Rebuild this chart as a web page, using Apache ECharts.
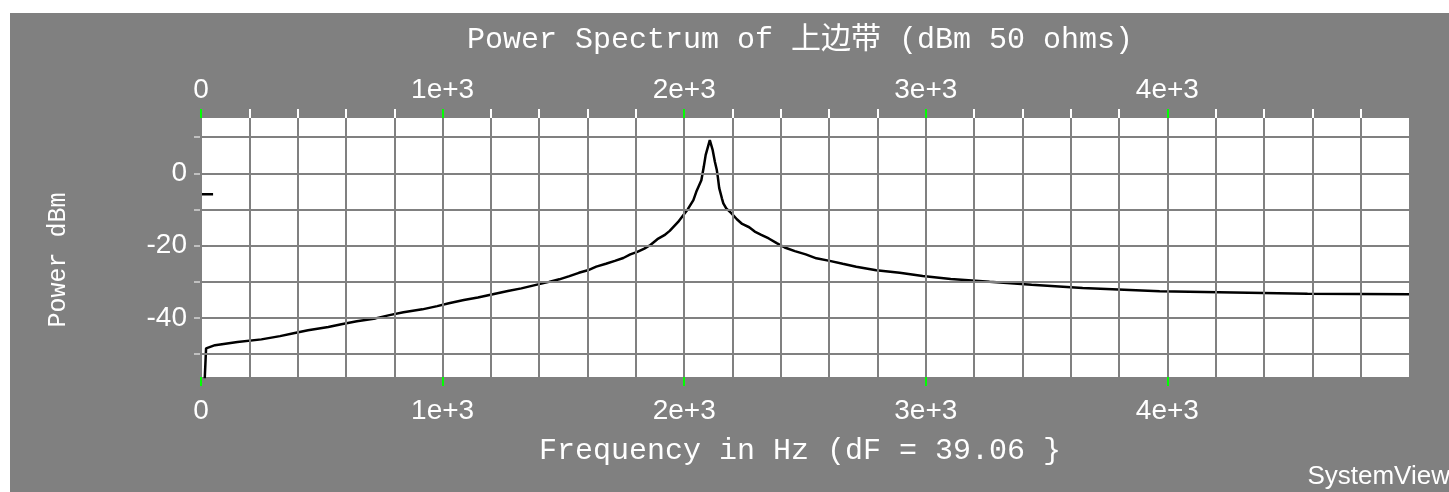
<!DOCTYPE html>
<html><head><meta charset="utf-8">
<script src="https://cdn.jsdelivr.net/npm/echarts@6/dist/echarts.min.js"></script>
<style>
html,body{margin:0;padding:0;background:#fff;overflow:hidden}
#bg{position:absolute;left:10px;top:13px;width:1439px;height:479px;background:#808080}
#chart{position:absolute;left:0;top:0;width:1449px;height:492px}
</style></head><body><div id="bg"></div><div id="chart"></div>
<script>
const freqHz = [0, 21, 58, 151, 250, 327, 383, 443, 527, 581, 645, 722, 780, 838, 916, 978, 1026, 1088, 1146, 1208, 1270, 1326, 1382, 1440, 1483, 1525, 1564, 1601, 1636, 1676, 1713, 1748, 1777, 1806, 1835, 1860, 1889, 1918, 1940, 1974, 2015, 2038, 2050, 2071, 2081, 2089, 2106, 2118, 2127, 2135, 2139, 2145, 2156, 2162, 2174, 2195, 2218, 2240, 2269, 2292, 2319, 2350, 2383, 2416, 2458, 2503, 2547, 2602, 2656, 2712, 2795, 2892, 2987, 3103, 3264, 3438, 3649, 3968, 4580, 5000];
const powerDbm = [-80, -48.4, -47.5, -46.6, -45.9, -45.0, -44.2, -43.4, -42.5, -41.7, -40.9, -40.1, -39.2, -38.4, -37.6, -36.7, -35.9, -35.0, -34.3, -33.4, -32.5, -31.8, -30.9, -30.0, -29.3, -28.4, -27.5, -26.8, -25.8, -25.0, -24.2, -23.4, -22.4, -21.7, -20.8, -19.8, -18.2, -17.1, -15.9, -13.5, -9.9, -7.4, -5.1, -1.9, 1.8, 5.1, 9.2, 6.4, 3.2, 0.9, -0.9, -4.1, -6.9, -8.3, -9.7, -11.0, -12.7, -14.0, -14.9, -16.1, -17.0, -18.0, -19.3, -20.5, -21.5, -22.4, -23.5, -24.2, -25.0, -25.8, -26.8, -27.5, -28.4, -29.2, -30.0, -30.8, -31.7, -32.6, -33.3, -33.4];
const markerHz = [0, 50];
const markerDbm = [-5.8, -5.8];
const xMinorTicks = [200, 400, 600, 800, 1200, 1400, 1600, 1800, 2200, 2400, 2600, 2800, 3200, 3400, 3600, 3800, 4200, 4400, 4600, 4800];
const xMajorTicks = [0, 1000, 2000, 3000, 4000];
const xTickLabels = ['0', '1e+3', '2e+3', '3e+3', '4e+3'];
const yGridValues = [10, 0, -10, -20, -30, -40, -50];
const yLabelValues = [0, -20, -40];
const titleText = 'Power Spectrum of 上边带 (dBm 50 ohms)';
const xName = 'Frequency in Hz (dF = 39.06 }';
const yName = 'Power dBm';
const brand = 'SystemView';

const chart = echarts.init(document.getElementById('chart'), null, {renderer: 'canvas'});
const WHITE = '#ffffff', GRAY = '#808080', GREEN = '#00ff00';
const labelFont = {color: WHITE, fontFamily: '"Liberation Sans", Arial, sans-serif', fontSize: 28};
function xAxisDef(pos, ticks, color, labels, margin) {
  return {
    type: 'value', position: pos, min: 0, max: 5000, interval: 200,
    axisLine: {show: false},
    axisTick: {show: true, customValues: ticks, length: 9, lineStyle: {color: color, width: 2}},
    axisLabel: labels ? Object.assign({show: true, customValues: xMajorTicks, margin: margin,
      formatter: v => { const i = xMajorTicks.indexOf(v); return i >= 0 ? xTickLabels[i] : ''; }}, labelFont)
      : {show: false},
    splitLine: {show: false}
  };
}
const xAxes = [
  xAxisDef('bottom', xMinorTicks, WHITE, false),
  xAxisDef('bottom', xMajorTicks, GREEN, true, 20),
  xAxisDef('top', xMinorTicks, WHITE, false),
  xAxisDef('top', xMajorTicks, GREEN, true, 14)
];
const xGridValues = xMajorTicks.concat(xMinorTicks);
const gridLineData = yGridValues.map(v => ({yAxis: v})).concat(xGridValues.map(v => ({xAxis: v})));

chart.setOption({
  animation: false,
  backgroundColor: 'transparent',
  grid: {left: 201, top: 118, width: 1208, height: 259, show: true, backgroundColor: '#ffffff', borderWidth: 0},
  xAxis: xAxes,
  yAxis: {
    type: 'value', min: -56.3, max: 15.3,
    axisLine: {show: false},
    axisTick: {show: true, customValues: yGridValues, length: 7, lineStyle: {color: '#c0c0c0', width: 2}},
    axisLabel: Object.assign({customValues: yLabelValues, margin: 14}, labelFont),
    splitLine: {show: false}
  },
  series: [
    {
      type: 'line', xAxisIndex: 0, data: [], z: 1, silent: true,
      markLine: {
        silent: true, symbol: ['none', 'none'], label: {show: false}, animation: false,
        lineStyle: {color: GRAY, width: 2, type: 'solid'},
        emphasis: {disabled: true},
        data: gridLineData
      }
    },
    {
      type: 'line', xAxisIndex: 0, z: 3, showSymbol: false, silent: true,
      data: freqHz.map((f, i) => [f, powerDbm[i]]),
      lineStyle: {color: '#000000', width: 2.5}
    },
    {
      type: 'line', xAxisIndex: 0, z: 3, showSymbol: false, silent: true,
      data: markerHz.map((f, i) => [f, markerDbm[i]]),
      lineStyle: {color: '#000000', width: 2.5}
    }
  ],
  graphic: [
    {type: 'text', x: 800, y: 40, style: {text: titleText, fill: WHITE, font: '30px "Liberation Mono", "Noto Sans CJK SC", monospace', align: 'center', verticalAlign: 'middle'}},
    {type: 'text', x: 800, y: 451, style: {text: xName, fill: WHITE, font: '30px "Liberation Mono", monospace', align: 'center', verticalAlign: 'middle'}},
    {type: 'text', x: 58, y: 260, rotation: Math.PI / 2, style: {text: yName, fill: WHITE, font: '25px "Liberation Mono", monospace', align: 'center', verticalAlign: 'middle'}},
    {type: 'text', x: 1450, y: 477, style: {text: brand, fill: WHITE, font: '26px "Liberation Sans", Arial, sans-serif', align: 'right', verticalAlign: 'middle'}}
  ]
});
</script></body></html>
